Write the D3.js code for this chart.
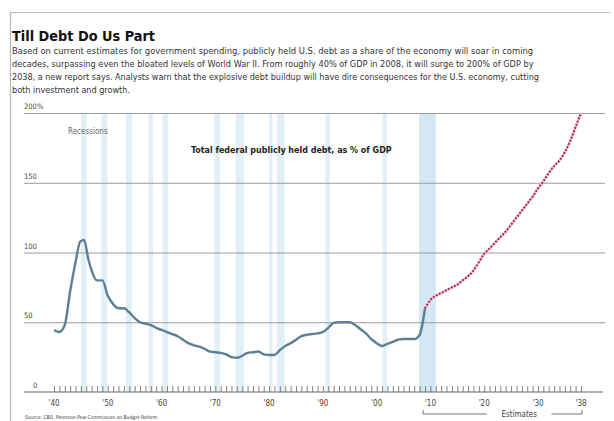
<!DOCTYPE html>
<html><head><meta charset="utf-8">
<script src="https://cdn.jsdelivr.net/npm/d3@7"></script>
<style>
html,body{margin:0;padding:0;background:#fff;}
svg{display:block;}
text{font-family:"Liberation Sans Narrow","DejaVu Sans Condensed","Roboto Condensed",Roboto,sans-serif;}
</style></head>
<body>
<svg id="chart" width="614" height="421"></svg>
<script>
const histYears = [1940,1941,1942,1943,1944,1944.9,1945.6,1946.4,1947,1948,1949,1950,1951,1952,1953,1954,1955,1956,1957,1958,1959,1960,1961,1962,1963,1964,1965,1966,1967,1968,1969,1970,1971,1972,1973,1974,1975,1976,1977,1978,1979,1980,1981,1982,1983,1984,1985,1986,1987,1988,1989,1990,1991,1992,1993,1994,1995,1996,1997,1998,1999,2000,2001,2002,2003,2004,2005,2006,2007,2008,2009];
const histValues = [44.5,43,48,72,93,108,109,95,87,80,80,69,63,60,60,57,53,50,49,48,46,44.5,43,41.5,40,37.5,35,33.5,32.5,31,29,28.5,28,27,25,24.5,26,28,28.5,29,27,26.5,26.5,30,33,35,37.5,40,41,41.5,42,43,46,49.5,50,50,50,48,45,42,38,35,33,34.5,36,37.5,38,38,38,41,60];
const projYears = [2009,2010,2011,2012,2013,2014,2015,2016,2017,2018,2019,2020,2021,2022,2023,2024,2025,2026,2027,2028,2029,2030,2031,2032,2033,2034,2035,2036,2037,2038];
const projValues = [60,66,69,71,73,75,77,80,83,87,93,99,103,107,111,115,120,125,130,135,140,146,151,157,162,166,172,180,190,200];
const recessions = [[1945.0,1946.0],[1948.8,1949.9],[1953.4,1954.5],[1957.6,1958.4],[1960.2,1961.2],[1969.8,1970.9],[1973.8,1975.3],[1980.0,1980.6],[1981.5,1982.9],[1990.5,1991.3],[2001.1,2001.9],[2007.9,2011.0]];
const yTicks = [0,50,100,150,200];
const yTickLabels = ["0","50","100","150","200%"];
const xTickYears = [1940,1950,1960,1970,1980,1990,2000,2010,2020,2030,2038];
const xTickLabels = ["'40","'50","'60","'70","'80","'90","'00","'10","'20","'30","'38"];
const titleText = "Till Debt Do Us Part";
const introLines = [
 "Based on current estimates for government spending, publicly held U.S. debt as a share of the economy will soar in coming",
 "decades, surpassing even the bloated levels of World War II. From roughly 40% of GDP in 2008, it will surge to 200% of GDP by",
 "2038, a new report says. Analysts warn that the explosive debt buildup will have dire consequences for the U.S. economy, cutting",
 "both investment and growth."
];
const chartLabel = "Total federal publicly held debt, as % of GDP";
const recessionLabel = "Recessions";
const estimatesLabel = "Estimates";
const sourceText = "Source: CBO, Peterson-Pew Commission on Budget Reform";

const svg = d3.select("#chart");
const x = d3.scaleLinear().domain([1940,2038]).range([54,581]);
const y = d3.scaleLinear().domain([0,200]).range([392,113]);

// frame
svg.append("path").attr("d","M10.5,425 V12.5 H610").attr("fill","none").attr("stroke","#b8b8b8").attr("stroke-width",1.2);

function fitText(sel, target){
  const w = sel.node().getComputedTextLength();
  const fs = parseFloat(sel.attr("font-size"));
  sel.attr("font-size", (fs*target/w).toFixed(2));
}

// title
const t = svg.append("text").attr("x",12).attr("y",41).attr("font-size",19).attr("font-weight","bold").attr("fill","#111").text(titleText);
fitText(t,143);
// intro
const introTargets = [522,522,527,118];
introLines.forEach((l,i)=>{
  const s = svg.append("text").attr("x",12).attr("y",54+i*13).attr("font-size",10).attr("fill","#333").text(l);
  fitText(s,introTargets[i]);
});

// recession bands
svg.append("g").selectAll("rect").data(recessions).join("rect")
  .attr("x",d=>x(d[0])).attr("width",d=>x(d[1])-x(d[0]))
  .attr("y",y(200)).attr("height",y(0)-y(200))
  .attr("fill",(d,i)=>i===recessions.length-1?"#d3e8f4":"#e1eff7");

// grid
svg.append("g").selectAll("line").data(yTicks.filter(v=>v>0)).join("line")
  .attr("x1",24).attr("x2",605).attr("y1",d=>y(d)+0.5).attr("y2",d=>y(d)+0.5)
  .attr("stroke","#9a9a9a").attr("stroke-width",1);
svg.append("line").attr("x1",24).attr("x2",603).attr("y1",y(0)).attr("y2",y(0)).attr("stroke","#666").attr("stroke-width",1);

// y labels
svg.append("g").selectAll("text").data(yTicks).join("text")
  .attr("x",d=>d===0?33:24).attr("y",d=>y(d)-4)
  .attr("font-size",7.5).attr("fill","#444")
  .text((d,i)=>yTickLabels[i]);

// x axis minor ticks via d3 axis
const xAxis = d3.axisTop(x).tickValues(d3.range(1940,2039)).tickSize(6).tickFormat("");
const gx = svg.append("g").attr("transform",`translate(0,${y(0)})`).call(xAxis);
gx.select(".domain").remove();
gx.selectAll(".tick line").attr("stroke","#666").attr("stroke-width",0.8);

// x labels
svg.append("g").selectAll("text").data(xTickYears).join("text")
  .attr("x",d=>x(d)).attr("y",406).attr("text-anchor","middle")
  .attr("font-size",8).attr("fill","#444")
  .text((d,i)=>xTickLabels[i]);

// estimates bracket
const bx1 = x(2009)-2, bx2 = x(2038)+1, by = 414;
svg.append("path").attr("d",`M${bx1},${by-4} V${by} H${x(2020.5)} M${x(2032.5)},${by} H${bx2} V${by-4}`)
  .attr("fill","none").attr("stroke","#555").attr("stroke-width",0.8);
svg.append("text").attr("x",(x(2020.5)+x(2032.5))/2).attr("y",416.5).attr("text-anchor","middle")
  .attr("font-size",8).attr("fill","#444").text(estimatesLabel);

// source
svg.append("text").attr("x",25).attr("y",419).attr("font-size",5).attr("fill","#333").text(sourceText);

// labels in chart
svg.append("text").attr("x",68).attr("y",134).attr("font-size",8).attr("fill","#666").text(recessionLabel);
const cl = svg.append("text").attr("x",191).attr("y",153).attr("font-size",9).attr("font-weight","bold").attr("fill","#222").text(chartLabel);
fitText(cl,201);

// lines
const hist = histYears.map((yr,i)=>[yr,histValues[i]]);
const proj = projYears.map((yr,i)=>[yr,projValues[i]]);
const line = d3.line().x(d=>x(d[0])).y(d=>y(d[1])).curve(d3.curveMonotoneX);
svg.append("path").datum(hist).attr("d",line).attr("fill","none").attr("stroke","#5d7f96").attr("stroke-width",2.4).attr("stroke-linejoin","round");
svg.append("path").datum(proj).attr("d",line).attr("fill","none").attr("stroke","#f3b8c8").attr("stroke-width",2.6);
svg.append("path").datum(proj).attr("d",line).attr("fill","none").attr("stroke","#9c1f45").attr("stroke-width",2).attr("stroke-dasharray","1.6,1.8");
</script>
</body></html>
